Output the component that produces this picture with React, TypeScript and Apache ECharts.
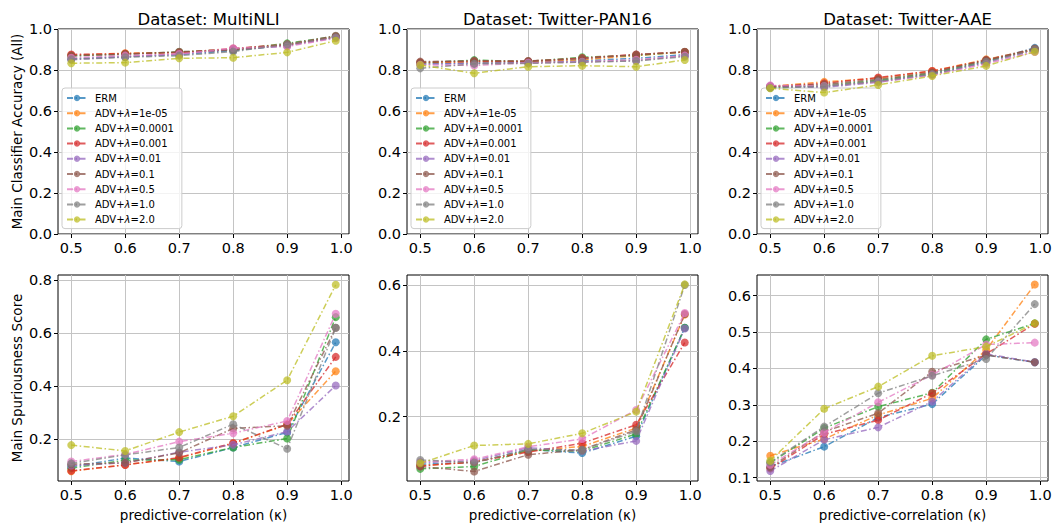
import React, { useEffect, useRef } from 'react';
import * as echarts from 'echarts';

const kappa = [0.5, 0.6, 0.7, 0.8, 0.9, 0.99];
const xTicks = [0.5, 0.6, 0.7, 0.8, 0.9, 1.0];

const seriesNames = ['ERM', 'ADV+λ=1e-05', 'ADV+λ=0.0001', 'ADV+λ=0.001', 'ADV+λ=0.01', 'ADV+λ=0.1', 'ADV+λ=0.5', 'ADV+λ=1.0', 'ADV+λ=2.0'];
const colors = ['#1f77b4', '#ff7f0e', '#2ca02c', '#d62728', '#9467bd', '#8c564b', '#e377c2', '#7f7f7f', '#bcbd22'];

const datasetTitles = ['Dataset: MultiNLI', 'Dataset: Twitter-PAN16', 'Dataset: Twitter-AAE'];

// Main classifier accuracy (rows = series, cols = kappa)
const accMultiNLI = [
  [0.855, 0.865, 0.875, 0.895, 0.920, 0.960],
  [0.872, 0.882, 0.885, 0.900, 0.922, 0.962],
  [0.868, 0.878, 0.888, 0.900, 0.930, 0.965],
  [0.876, 0.880, 0.885, 0.905, 0.925, 0.962],
  [0.850, 0.865, 0.878, 0.900, 0.918, 0.958],
  [0.870, 0.876, 0.889, 0.897, 0.924, 0.967],
  [0.860, 0.870, 0.878, 0.906, 0.915, 0.955],
  [0.852, 0.862, 0.870, 0.890, 0.925, 0.960],
  [0.833, 0.836, 0.857, 0.860, 0.886, 0.943],
];
const accPAN16 = [
  [0.830, 0.835, 0.838, 0.845, 0.857, 0.875],
  [0.835, 0.840, 0.840, 0.850, 0.870, 0.888],
  [0.835, 0.848, 0.842, 0.862, 0.872, 0.888],
  [0.838, 0.842, 0.843, 0.858, 0.876, 0.888],
  [0.828, 0.832, 0.836, 0.840, 0.846, 0.870],
  [0.841, 0.845, 0.844, 0.855, 0.875, 0.889],
  [0.825, 0.822, 0.835, 0.840, 0.850, 0.870],
  [0.808, 0.830, 0.832, 0.838, 0.844, 0.865],
  [0.824, 0.784, 0.816, 0.821, 0.816, 0.849],
];
const accAAE = [
  [0.715, 0.720, 0.745, 0.780, 0.840, 0.908],
  [0.720, 0.742, 0.760, 0.795, 0.852, 0.900],
  [0.715, 0.725, 0.750, 0.785, 0.845, 0.900],
  [0.718, 0.735, 0.763, 0.795, 0.848, 0.900],
  [0.722, 0.715, 0.740, 0.778, 0.835, 0.895],
  [0.720, 0.730, 0.755, 0.788, 0.849, 0.905],
  [0.725, 0.722, 0.742, 0.775, 0.830, 0.888],
  [0.712, 0.720, 0.745, 0.780, 0.840, 0.900],
  [0.711, 0.690, 0.727, 0.771, 0.820, 0.889],
];

// Main spuriousness score
const spurMultiNLI = [
  [0.095, 0.128, 0.115, 0.168, 0.225, 0.565],
  [0.078, 0.103, 0.128, 0.183, 0.255, 0.456],
  [0.090, 0.120, 0.122, 0.168, 0.202, 0.660],
  [0.080, 0.102, 0.130, 0.185, 0.255, 0.510],
  [0.100, 0.110, 0.150, 0.178, 0.228, 0.402],
  [0.105, 0.110, 0.148, 0.240, 0.250, 0.620],
  [0.115, 0.142, 0.190, 0.222, 0.268, 0.673],
  [0.108, 0.140, 0.168, 0.256, 0.163, 0.620],
  [0.177, 0.155, 0.226, 0.286, 0.422, 0.782],
];
const spurPAN16 = [
  [0.055, 0.060, 0.100, 0.089, 0.140, 0.470],
  [0.050, 0.062, 0.095, 0.109, 0.165, 0.510],
  [0.041, 0.048, 0.098, 0.095, 0.147, 0.470],
  [0.050, 0.062, 0.092, 0.119, 0.175, 0.425],
  [0.060, 0.066, 0.105, 0.095, 0.126, 0.468],
  [0.048, 0.033, 0.084, 0.099, 0.160, 0.512],
  [0.062, 0.070, 0.108, 0.132, 0.220, 0.515],
  [0.068, 0.060, 0.100, 0.099, 0.155, 0.600],
  [0.058, 0.112, 0.117, 0.149, 0.215, 0.602],
];
const spurAAE = [
  [0.130, 0.185, 0.265, 0.302, 0.437, 0.417],
  [0.160, 0.206, 0.272, 0.318, 0.451, 0.631],
  [0.140, 0.236, 0.295, 0.333, 0.480, 0.524],
  [0.125, 0.219, 0.258, 0.332, 0.440, 0.523],
  [0.118, 0.204, 0.238, 0.309, 0.440, 0.417],
  [0.128, 0.226, 0.277, 0.391, 0.437, 0.417],
  [0.135, 0.224, 0.307, 0.382, 0.466, 0.471],
  [0.142, 0.240, 0.332, 0.380, 0.426, 0.577],
  [0.146, 0.289, 0.350, 0.435, 0.460, 0.524],
];

const panels = [accMultiNLI, accPAN16, accAAE, spurMultiNLI, spurPAN16, spurAAE];

// y-axis ranges and ticks per panel
const yRanges = [
  [0, 1], [0, 1], [0, 1],
  [0.0415, 0.819], [0.004, 0.6305], [0.0905, 0.657],
];
const yTicksTop = [0, 0.2, 0.4, 0.6, 0.8, 1.0];
const yTicksSpurMultiNLI = [0.2, 0.4, 0.6, 0.8];
const yTicksSpurPAN16 = [0.2, 0.4, 0.6];
const yTicksSpurAAE = [0.1, 0.2, 0.3, 0.4, 0.5, 0.6];
const yTicks = [yTicksTop, yTicksTop, yTicksTop, yTicksSpurMultiNLI, yTicksSpurPAN16, yTicksSpurAAE];

const FONT = 'DejaVu Sans';
const colLefts = [58, 407, 757];
const PW = 291;
const rowTops = [29, 275];
const rowHeights = [205, 206];

export default function App() {
  const ref = useRef<HTMLDivElement>(null);
  useEffect(() => {
    if (!ref.current) return;
    const chart = echarts.init(ref.current, null, { renderer: 'svg' });

    const grids: any[] = [];
    const xAxes: any[] = [];
    const yAxes: any[] = [];
    const series: any[] = [];

    for (let g = 0; g < 6; g++) {
      const row = Math.floor(g / 3);
      const col = g % 3;
      grids.push({
        left: colLefts[col], top: rowTops[row], width: PW, height: rowHeights[row],
        show: true, borderColor: '#000', borderWidth: 1, backgroundColor: 'transparent',
        outerBoundsMode: 'none', containLabel: false,
      });
      xAxes.push({
        type: 'value', gridIndex: g, min: 0.4755, max: 1.0145,
        axisLine: { show: false },
        axisTick: { show: true, length: 4, lineStyle: { color: '#000', width: 1 }, customValues: xTicks },
        axisLabel: { customValues: xTicks, color: '#000', fontSize: 14.5, fontFamily: FONT, margin: 6, formatter: (v: number) => v.toFixed(1) },
        splitLine: { show: true, lineStyle: { color: '#c4c4c4', width: 1 } },
        name: row === 1 ? 'predictive-correlation (κ)' : '',
        nameLocation: 'middle', nameGap: 27,
        nameTextStyle: { color: '#000', fontSize: 13.5, fontFamily: FONT },
      });
      yAxes.push({
        type: 'value', gridIndex: g, min: yRanges[g][0], max: yRanges[g][1],
        axisLine: { show: false },
        axisTick: { show: true, length: 4, lineStyle: { color: '#000', width: 1 }, customValues: yTicks[g] },
        axisLabel: { customValues: yTicks[g], color: '#000', fontSize: 14.5, fontFamily: FONT, margin: 6, formatter: (v: number) => v.toFixed(1) },
        splitLine: { show: true, lineStyle: { color: '#c4c4c4', width: 1 } },
        name: col === 0 ? (row === 0 ? 'Main Classifier Accuracy (All)' : 'Main Spuriousness Score') : '',
        nameLocation: 'middle', nameGap: 34,
        nameTextStyle: { color: '#000', fontSize: 13.5, fontFamily: FONT },
      });
      const data = panels[g];
      for (let i = 0; i < seriesNames.length; i++) {
        series.push({
          type: 'line', name: seriesNames[i], xAxisIndex: g, yAxisIndex: g,
          data: kappa.map((k, j) => [k, data[i][j]]),
          symbol: 'circle', symbolSize: 8,
          itemStyle: { color: colors[i], opacity: 0.72 },
          lineStyle: { color: colors[i], width: 1.5, type: [6, 2.5, 1.5, 2.5], opacity: 0.75 },
          emphasis: { disabled: true },
          z: 2 + i,
        });
      }
    }

    const legends = colLefts.map((l) => ({
      show: true,
      left: l + 4, top: 88,
      orient: 'vertical',
      data: seriesNames,
      itemWidth: 20, itemHeight: 8, itemGap: 5.2,
      padding: [5, 8, 4, 4],
      backgroundColor: 'rgba(255,255,255,0.8)',
      borderColor: '#cccccc', borderWidth: 1, borderRadius: 3,
      selectedMode: false,
      formatter: (name: string) => name.replace('λ', '{i|λ}'),
      textStyle: {
        fontSize: 10, fontFamily: FONT, color: '#000', lineHeight: 10, padding: [0, 0, 0, 3],
        rich: { i: { fontStyle: 'italic', fontSize: 10, fontFamily: FONT } },
      },
    }));

    const titles = datasetTitles.map((t, c) => ({
      text: t, left: colLefts[c] + PW / 2, top: 6, textAlign: 'center',
      textStyle: { fontSize: 16.5, fontWeight: 'normal', color: '#000', fontFamily: FONT },
    }));

    chart.setOption({
      animation: false,
      backgroundColor: '#fff',
      title: titles,
      legend: legends,
      grid: grids,
      xAxis: xAxes,
      yAxis: yAxes,
      series,
    });
    return () => chart.dispose();
  }, []);
  return <div ref={ref} style={{ position: 'absolute', left: 0, top: 0, width: 1055, height: 527 }} />;
}
